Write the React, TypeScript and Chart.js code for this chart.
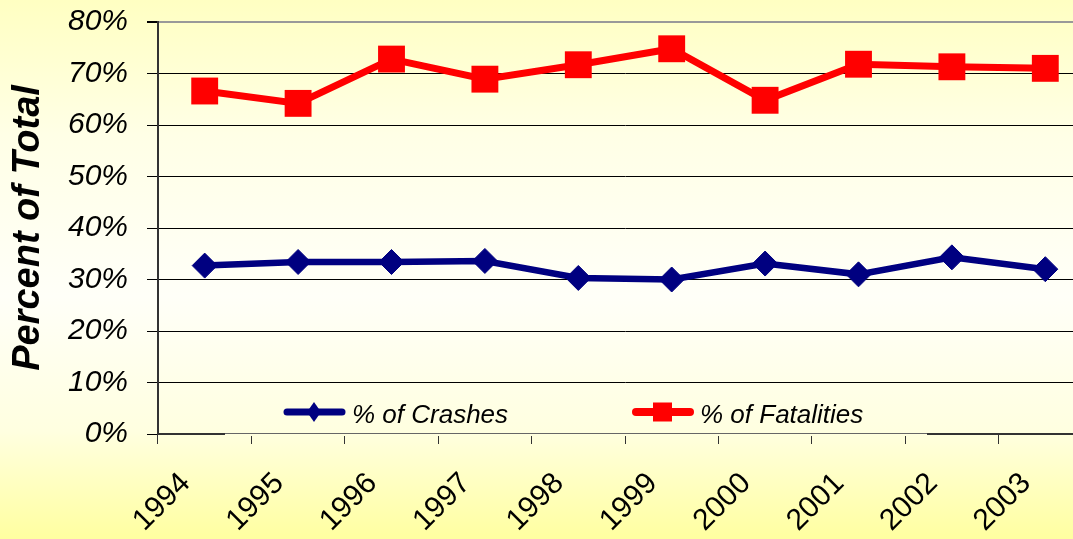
import React, { useEffect, useRef } from "react";
import { Chart, registerables } from "chart.js";

Chart.register(...registerables);

const years = ["1994", "1995", "1996", "1997", "1998", "1999", "2000", "2001", "2002", "2003"];
const crashes = [32.7, 33.4, 33.4, 33.6, 30.3, 30.0, 33.1, 31.0, 34.3, 32.0];
const fatalities = [66.6, 64.2, 72.8, 68.9, 71.7, 74.8, 64.8, 71.8, 71.3, 71.0];
const crashesLabel = "% of Crashes";
const fatalitiesLabel = "% of Fatalities";
const yTitle = "Percent of Total";

const FONT = "'Liberation Sans', Arial, sans-serif";
const BLUE = "#000080";
const RED = "#FF0000";

const legendPlugin = {
  id: "customLegend",
  afterDraw(chart: any) {
    const ctx = chart.ctx as CanvasRenderingContext2D;
    const a = chart.chartArea;
    const y = a.bottom - 22;
    ctx.save();
    // legend box hides part of the x axis line
    ctx.clearRect(225, a.bottom - 2, 702, 4);
    ctx.strokeStyle = "#666";
    ctx.lineWidth = 1;
    ctx.beginPath();
    ctx.moveTo(225, a.bottom - 0.5);
    ctx.lineTo(927, a.bottom - 0.5);
    ctx.stroke();

    ctx.lineCap = "round";
    // crashes item
    ctx.strokeStyle = BLUE;
    ctx.lineWidth = 7;
    ctx.beginPath();
    ctx.moveTo(287, y);
    ctx.lineTo(342, y);
    ctx.stroke();
    ctx.fillStyle = BLUE;
    ctx.beginPath();
    ctx.moveTo(314, y - 10);
    ctx.lineTo(321, y);
    ctx.lineTo(314, y + 10);
    ctx.lineTo(307, y);
    ctx.closePath();
    ctx.fill();
    // fatalities item
    ctx.strokeStyle = RED;
    ctx.lineWidth = 8;
    ctx.beginPath();
    ctx.moveTo(636, y);
    ctx.lineTo(690, y);
    ctx.stroke();
    ctx.fillStyle = RED;
    ctx.fillRect(653, y - 9.5, 19, 19);

    ctx.fillStyle = "#000";
    ctx.font = `italic 26px ${FONT}`;
    ctx.textBaseline = "alphabetic";
    ctx.textAlign = "left";
    ctx.fillText(crashesLabel, 352, y + 11);
    ctx.fillText(fatalitiesLabel, 700, y + 11);
    ctx.restore();
  },
};

export default function App() {
  const ref = useRef<HTMLCanvasElement>(null);
  useEffect(() => {
    const chart = new Chart(ref.current as HTMLCanvasElement, {
      type: "line",
      data: {
        labels: years,
        datasets: [
          {
            label: crashesLabel,
            data: crashes,
            borderColor: BLUE,
            backgroundColor: BLUE,
            borderWidth: 6.5,
            pointStyle: "rectRot",
            pointRadius: 12.5,
            pointBorderWidth: 1,
            pointBorderColor: BLUE,
            pointBackgroundColor: BLUE,
            tension: 0,
          },
          {
            label: fatalitiesLabel,
            data: fatalities,
            borderColor: RED,
            backgroundColor: RED,
            borderWidth: 7,
            pointStyle: "rect",
            pointRadius: 19,
            pointBorderWidth: 0,
            pointBackgroundColor: RED,
            tension: 0,
          },
        ],
      },
      options: {
        animation: false,
        responsive: false,
        events: [],
        layout: { padding: { top: 22, right: 8, left: 0, bottom: 0 } },
        plugins: { legend: { display: false }, tooltip: { enabled: false } },
        scales: {
          x: {
            type: "category",
            offset: true,
            afterFit: (s: any) => {
              s.height = 105;
            },
            grid: {
              offset: true,
              drawOnChartArea: false,
              drawTicks: true,
              tickLength: 10,
              tickColor: "#333",
              tickWidth: 1,
            },
            border: { display: true, color: "#333", width: 2 },
            ticks: {
              minRotation: 45,
              maxRotation: 45,
              autoSkip: false,
              padding: 22,
              labelOffset: -19,
              color: "#000",
              font: { family: FONT, size: 30 },
            },
          },
          y: {
            min: 0,
            max: 80,
            afterFit: (s: any) => {
              s.width = 158;
              s.paddingTop = 0;
              s.paddingBottom = 0;
            },
            grid: {
              color: (c: any) => (c.tick && c.tick.value === 80 ? "#999" : "#000"),
              lineWidth: (c: any) => (c.tick && c.tick.value === 80 ? 2 : 1),
              tickLength: 11,
              tickColor: "#000",
            },
            border: { display: true, color: "#333", width: 2 },
            ticks: {
              stepSize: 10,
              padding: 19,
              color: "#000",
              font: { family: FONT, size: 30, style: "italic" },
              callback: (v: any) => `${v}%`,
            },
            title: {
              display: true,
              text: yTitle,
              color: "#000",
              padding: { top: 6, bottom: 0 },
              font: { family: FONT, size: 38, style: "italic", weight: "bold" },
            },
          },
        },
      },
      plugins: [legendPlugin],
    } as any);
    return () => chart.destroy();
  }, []);

  return (
    <div
      style={{
        position: "fixed",
        left: 0,
        top: 0,
        width: 1073,
        height: 539,
        overflow: "hidden",
        background:
          "linear-gradient(to bottom, #FFFFC2 0%, #FFFFE6 25%, #FFFFF8 55%, #FFFFE0 80%, #FFFFA0 100%)",
      }}
    >
      <canvas ref={ref} width={1111} height={539} style={{ display: "block" }} />
    </div>
  );
}
